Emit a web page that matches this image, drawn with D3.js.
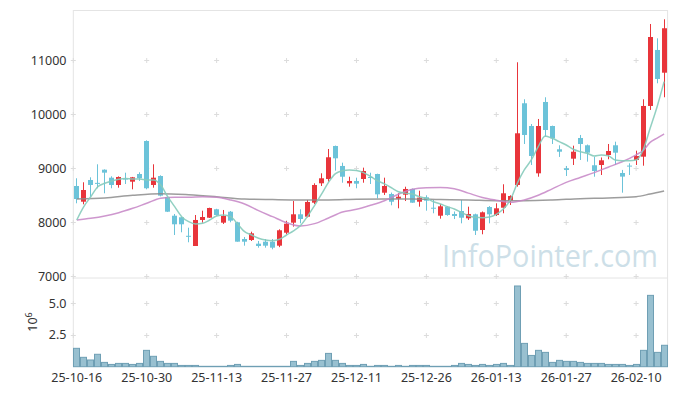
<!DOCTYPE html>
<html><head><meta charset="utf-8">
<script src="https://cdn.jsdelivr.net/npm/d3@7"></script>
<style>html,body{margin:0;padding:0;background:#fff;}svg{display:block;}</style>
</head><body>
<svg id="c" width="677" height="396"></svg>
<script>
const dates = ["25-10-16","25-10-17","25-10-20","25-10-21","25-10-22","25-10-23","25-10-24","25-10-27","25-10-28","25-10-29",
"25-10-30","25-10-31","25-11-03","25-11-04","25-11-05","25-11-06","25-11-07","25-11-10","25-11-11","25-11-12",
"25-11-13","25-11-14","25-11-17","25-11-18","25-11-19","25-11-20","25-11-21","25-11-24","25-11-25","25-11-26",
"25-11-27","25-11-28","25-12-01","25-12-02","25-12-03","25-12-04","25-12-05","25-12-08","25-12-09","25-12-10",
"25-12-11","25-12-12","25-12-15","25-12-16","25-12-17","25-12-18","25-12-19","25-12-22","25-12-23","25-12-24",
"25-12-26","25-12-29","25-12-30","26-01-02","26-01-05","26-01-06","26-01-07","26-01-08","26-01-09","26-01-12",
"26-01-13","26-01-14","26-01-15","26-01-16","26-01-19","26-01-20","26-01-21","26-01-22","26-01-23","26-01-26",
"26-01-27","26-01-28","26-01-29","26-01-30","26-02-02","26-02-03","26-02-04","26-02-05","26-02-06","26-02-09",
"26-02-10","26-02-11","26-02-12","26-02-13","26-02-19"];
const opens  = [8672,8381,8783,8730,8974,8826,8691,8810,8752,8894, 9505,8691,8857,8469,8122,8093,7750,7561,8043,8085,
8241,7993,8196,8000,7691,7672,7604,7641,7641,7567, 7807,7993,8148,8104,8363,8722,8802,9413,9043,8722,
8765,8802,8840,8894,8548,8524,8437,8511,8617,8381, 8463,8270,8122,8289,8154,8209,8074,8148,7857,8283,
8135,8270,8400,8691,10204,9783,8907,10228,9783,9352, 9000,9178,9561,9426,9056,9061,9246,9426,8913,9050,
9154,9215,10154,11191,10770];
const highs  = [8815,8741,8833,9074,8980,8852,8850,8918,8840,8926, 9518,9074,8870,8475,8154,8100,7900,8135,8215,8270,
8250,8228,8209,8010,7728,7826,7654,7690,7690,7870, 8024,8394,8241,8413,8722,8907,9357,9420,9104,8844,
8826,9012,8918,8900,8826,8550,8537,8659,8625,8585, 8500,8413,8340,8300,8200,8413,8289,8160,8200,8300,
8352,8704,8500,10963,10278,9820,9913,10315,9790,9426, 9043,9419,9617,9440,9215,9200,9450,9493,8970,9093,
9326,10278,11672,11407,11759];
const lows   = [8352,8333,8474,8630,8537,8630,8641,8709,8611,8765, 8611,8641,8480,8190,7765,7815,7630,7561,7993,8080,
8120,7969,8000,7641,7567,7654,7530,7530,7500,7540, 7778,7919,7981,8090,8339,8672,8752,8956,8733,8659,
8630,8733,8709,8444,8506,8315,8259,8394,8360,8289, 8215,8167,8067,8120,8060,7981,8043,7765,7778,7981,
8117,8167,8320,8660,9450,9061,8844,9585,9450,9210, 8857,9061,9154,9123,8844,8876,9167,9061,8548,8876,
9061,9048,10080,10574,10315];
const closes = [8431,8598,8691,8720,8919,8691,8839,8795,8833,8815, 8630,8826,8493,8196,7963,7963,7740,8043,8098,8265,
8135,8117,8030,7641,7641,7796,7561,7567,7530,7852, 7974,8148,8061,8376,8691,8815,9204,9185,8844,8765,
8715,8950,8820,8518,8672,8381,8474,8617,8363,8456, 8400,8260,8296,8135,8117,8085,8154,7844,8185,8148,
8259,8537,8487,9648,9617,9228,9783,9709,9555,9307, 8969,9307,9450,9289,8950,9148,9320,9289,8846,9040,
9228,10154,11431,10654,11593];
const volumes = [1.45,0.74,0.53,0.98,0.34,0.18,0.26,0.26,0.18,0.26, 1.29,0.82,0.42,0.26,0.26,0.10,0.10,0.10,0.03,0.03,
0.03,0.03,0.10,0.18,0.03,0.03,0.03,0.03,0.03,0.03, 0.03,0.42,0.10,0.26,0.42,0.50,1.05,0.50,0.26,0.10,
0.10,0.18,0.03,0.10,0.10,0.03,0.10,0.03,0.10,0.10, 0.10,0.03,0.03,0.03,0.10,0.26,0.18,0.10,0.18,0.10,
0.18,0.26,0.10,6.37,1.84,0.89,1.29,1.13,0.34,0.50, 0.42,0.42,0.34,0.26,0.26,0.26,0.18,0.18,0.18,0.10,
0.18,1.29,5.63,1.13,1.69];
const ma5 = [8043,8289,8474,8659,8722,8765,8796,8809,8800,8800, 8783,8783,8691,8474,8289,8104,8011,7969,7981,8043,
8117,8135,8104,7969,7826,7765,7704,7672,7660,7685, 7765,7840,7940,8110,8310,8520,8740,8900,8956,8969,
8960,8920,8850,8770,8710,8640,8565,8540,8524,8474, 8444,8381,8339,8289,8246,8185,8122,8093,8085,8098,
8148,8246,8413,8722,8969,9154,9400,9598,9555,9493, 9431,9352,9307,9278,9228,9246,9233,9154,9141,9141,
9154,9339,9741,10141,10604];
const ma20Pts = [[0,8043],[2,8074],[4,8117],[6,8178],[8,8259],[10,8352],[12,8444],[14,8463],[16,8463],[18,8474],
[20,8463],[22,8413],[24,8339],[26,8215],[28,8104],[30,7993],[32,7931],[34,7975],[36,8080],[38,8190],[40,8240],
[42,8315],[44,8400],[46,8520],[48,8610],[50,8640],[52,8645],[54,8620],[56,8540],[58,8460],[60,8410],[62,8370],
[64,8413],[66,8500],[68,8620],[70,8740],[72,8830],[74,8919],[76,9020],[78,9120],[80,9250],[81,9330],[82,9480],
[83,9560],[84,9635]];
const ma60Pts = [[0,8431],[4,8450],[8,8500],[12,8530],[16,8510],[20,8474],[24,8431],[28,8420],[32,8413],[36,8413],
[40,8426],[44,8431],[48,8431],[52,8420],[56,8413],[60,8400],[64,8400],[68,8413],[72,8438],[76,8450],[80,8474],
[82,8524],[84,8580]];
const priceTicks = [7000,8000,9000,10000,11000];
const volTicks = [2.5,5.0];
const xTickIdx = [0,10,20,30,40,50,60,70,80];

const svg = d3.select("#c");
const L = 73.3, R = 667.6, T = 10, MID = 278, B = 366.7;
const x = d3.scaleBand().domain(d3.range(dates.length)).range([L, R]).padding(0);
const bw = x.bandwidth();
const cx = i => x(i) + bw / 2 - 0.5;
const y = d3.scaleLinear().domain([7000, 11931]).range([276.3, T]);
const yv = d3.scaleLinear().domain([0, 7]).range([B, MID]);
const font = "'Noto Sans', 'DejaVu Sans', sans-serif";

// frame
const frame = svg.append("g").attr("stroke", "#e4e4e4").attr("stroke-width", 1).attr("fill", "none");
frame.append("line").attr("x1", L).attr("x2", R).attr("y1", T + 0.5).attr("y2", T + 0.5);
frame.append("line").attr("x1", L).attr("x2", R).attr("y1", MID).attr("y2", MID);
frame.append("line").attr("x1", L).attr("x2", L).attr("y1", T).attr("y2", B);
frame.append("line").attr("x1", R).attr("x2", R).attr("y1", T).attr("y2", B);

// grid crosses
const crossX = [L].concat(xTickIdx.slice(1).map(i => cx(i) + 0.5));
const crossG = svg.append("g").attr("stroke", "#dcdcdc").attr("stroke-width", 1);
function cross(px, py) {
  crossG.append("line").attr("x1", px - 2.5).attr("x2", px + 2.5).attr("y1", py).attr("y2", py);
  crossG.append("line").attr("x1", px).attr("x2", px).attr("y1", py - 2.5).attr("y2", py + 2.5);
}
priceTicks.forEach(v => crossX.forEach(px => cross(px, Math.round(y(v)) + 0.5)));
volTicks.forEach(v => crossX.forEach(px => cross(px, Math.round(yv(v)) + 0.5)));

// watermark
svg.append("text").attr("x", 442).attr("y", 267).attr("font-family", "'Open Sans', 'Noto Sans', sans-serif")
  .attr("font-size", 31).attr("fill", "#cddfe8").attr("textLength", 216).attr("lengthAdjust", "spacingAndGlyphs")
  .text("InfoPointer.com");

// y axis labels
const lab = svg.append("g").attr("font-family", font).attr("font-size", 12.5).attr("fill", "#333");
priceTicks.forEach(v => lab.append("text").attr("x", 66.5).attr("y", y(v)).attr("dy", "0.35em").attr("text-anchor", "end").text(v));
volTicks.forEach(v => lab.append("text").attr("x", 66.5).attr("y", yv(v)).attr("dy", "0.35em").attr("text-anchor", "end").text(v.toFixed(1)));
const ex = lab.append("text").attr("transform", "translate(37,322) rotate(-90)").attr("text-anchor", "middle");
ex.append("tspan").text("10");
ex.append("tspan").attr("dy", -5).attr("font-size", 9).text("6");
xTickIdx.forEach(i => lab.append("text").attr("x", cx(i) + 0.5).attr("y", 382).attr("text-anchor", "middle").text(dates[i]));

// volume bars
svg.append("g").selectAll("rect").data(volumes).join("rect")
  .attr("x", (d, i) => Math.round(x(i)) + 0.5).attr("width", Math.round(bw) - 1 + 0.0)
  .attr("y", d => yv(d)).attr("height", d => B - yv(d))
  .attr("fill", "#98c0d0").attr("stroke", "#6f9fb4").attr("stroke-width", 1);

// candles
const up = "#e8353b", dn = "#6cc3d9";
const cg = svg.append("g");
dates.forEach((d, i) => {
  const o = opens[i], c = closes[i], h = highs[i], l = lows[i];
  const col = c >= o ? up : dn;
  const px = Math.round(cx(i)) + 0.5;
  cg.append("line").attr("x1", px).attr("x2", px).attr("y1", y(h)).attr("y2", y(l)).attr("stroke", col).attr("stroke-width", 1);
  const top = y(Math.max(o, c)), bot = y(Math.min(o, c));
  cg.append("rect").attr("x", px - 2.5).attr("width", 5).attr("y", top).attr("height", Math.max(1, bot - top)).attr("fill", col);
});

// moving averages
const lineIdx = d3.line().x(d => cx(d[0]) + 0.5).y(d => y(d[1])).curve(d3.curveMonotoneX);
svg.append("path").attr("d", lineIdx(ma60Pts)).attr("fill", "none").attr("stroke", "#8c8c8c").attr("stroke-width", 1.5).attr("opacity", 0.85);
svg.append("path").attr("d", lineIdx(ma20Pts)).attr("fill", "none").attr("stroke", "#c585c6").attr("stroke-width", 1.5).attr("opacity", 0.85);
svg.append("path").attr("d", lineIdx(ma5.map((v, i) => [i, v]))).attr("fill", "none").attr("stroke", "#86cbbb").attr("stroke-width", 1.5).attr("opacity", 0.9);
</script>
</body></html>
